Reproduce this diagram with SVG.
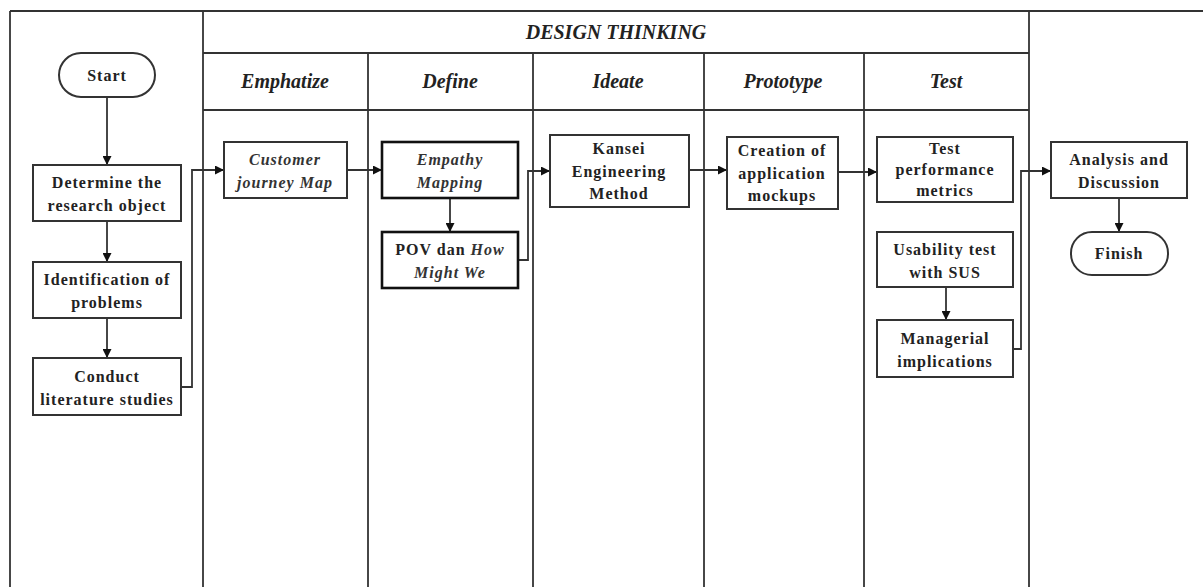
<svg xmlns="http://www.w3.org/2000/svg" width="1203" height="587" viewBox="0 0 1203 587">
<style>
.grid{stroke:#333;stroke-width:1.8;fill:none}
.box{fill:#fff;stroke:#333;stroke-width:2}
.thick{fill:#fff;stroke:#111;stroke-width:2.6}
.t{font-family:"Liberation Serif","Times New Roman",serif;font-weight:bold;font-size:16px;letter-spacing:1px;fill:#222;text-anchor:middle}
.i{font-style:italic;fill:#333}
.h{font-family:"Liberation Serif","Times New Roman",serif;font-weight:bold;font-style:italic;font-size:20px;fill:#222;text-anchor:middle}
.c{stroke:#333;stroke-width:1.8;fill:none}
</style>
<defs>
<marker id="arr" viewBox="0 0 10 10" refX="10" refY="5" markerWidth="9" markerHeight="9" markerUnits="userSpaceOnUse" orient="auto">
<path d="M0,0 L10,5 L0,10 z" fill="#111"/>
</marker>
</defs>
<rect width="1203" height="587" fill="#fff"/>
<g id="frame">
<line class="grid" x1="10" y1="11" x2="1203" y2="11"/>
<line class="grid" x1="10" y1="11" x2="10" y2="587"/>
<line class="grid" x1="203" y1="11" x2="203" y2="587"/>
<line class="grid" x1="1029" y1="11" x2="1029" y2="587"/>
<line class="grid" x1="203" y1="53" x2="1029" y2="53"/>
<line class="grid" x1="203" y1="110" x2="1029" y2="110"/>
<line class="grid" x1="368" y1="53" x2="368" y2="587"/>
<line class="grid" x1="533" y1="53" x2="533" y2="587"/>
<line class="grid" x1="704" y1="53" x2="704" y2="587"/>
<line class="grid" x1="864" y1="53" x2="864" y2="587"/>
<text class="h" x="616" y="39">DESIGN THINKING</text>
<text class="h" x="285" y="88">Emphatize</text>
<text class="h" x="450" y="88">Define</text>
<text class="h" x="618" y="88">Ideate</text>
<text class="h" x="783" y="88">Prototype</text>
<text class="h" x="946" y="88">Test</text>
</g>
<g id="connectors">
<line class="c" x1="107" y1="97" x2="107" y2="165" marker-end="url(#arr)"/>
<line class="c" x1="107" y1="221" x2="107" y2="262" marker-end="url(#arr)"/>
<line class="c" x1="107" y1="318" x2="107" y2="358" marker-end="url(#arr)"/>
<polyline class="c" points="181,387 192,387 192,170 224,170" marker-end="url(#arr)"/>
<line class="c" x1="347" y1="170" x2="382" y2="170" marker-end="url(#arr)"/>
<line class="c" x1="450" y1="198" x2="450" y2="232" marker-end="url(#arr)"/>
<polyline class="c" points="518,260 528,260 528,171 550,171" marker-end="url(#arr)"/>
<line class="c" x1="689" y1="170" x2="727" y2="170" marker-end="url(#arr)"/>
<line class="c" x1="838" y1="172" x2="877" y2="172" marker-end="url(#arr)"/>
<line class="c" x1="946" y1="287" x2="946" y2="320" marker-end="url(#arr)"/>
<polyline class="c" points="1013,349 1021,349 1021,171 1051,171" marker-end="url(#arr)"/>
<line class="c" x1="1119" y1="198" x2="1119" y2="232" marker-end="url(#arr)"/>
</g>
<g id="start">
<rect class="box" x="59" y="53" width="96" height="44" rx="22"/>
<text class="t" x="107" y="81">Start</text>
</g>
<g id="determine">
<rect class="box" x="33" y="165" width="148" height="56"/>
<text class="t" x="107" y="188">Determine the</text>
<text class="t" x="107" y="211">research object</text>
</g>
<g id="identification">
<rect class="box" x="33" y="262" width="148" height="56"/>
<text class="t" x="107" y="285">Identification of</text>
<text class="t" x="107" y="308">problems</text>
</g>
<g id="conduct">
<rect class="box" x="33" y="358" width="148" height="57"/>
<text class="t" x="107" y="382">Conduct</text>
<text class="t" x="107" y="405">literature studies</text>
</g>
<g id="customer">
<rect class="box" x="224" y="142" width="123" height="56"/>
<text class="t i" x="285" y="165">Customer</text>
<text class="t i" x="285" y="188">journey Map</text>
</g>
<g id="empathy">
<rect class="thick" x="382" y="142" width="136" height="56"/>
<text class="t i" x="450" y="165">Empathy</text>
<text class="t i" x="450" y="188">Mapping</text>
</g>
<g id="pov">
<rect class="thick" x="382" y="232" width="136" height="56"/>
<text class="t" x="450" y="255">POV dan <tspan class="i">How</tspan></text>
<text class="t i" x="450" y="278">Might We</text>
</g>
<g id="kansei">
<rect class="box" x="550" y="135" width="139" height="72"/>
<text class="t" x="619" y="154">Kansei</text>
<text class="t" x="619" y="177">Engineering</text>
<text class="t" x="619" y="199">Method</text>
</g>
<g id="creation">
<rect class="box" x="727" y="137" width="111" height="72"/>
<text class="t" x="782" y="156">Creation of</text>
<text class="t" x="782" y="179">application</text>
<text class="t" x="782" y="201">mockups</text>
</g>
<g id="testperf">
<rect class="box" x="877" y="137" width="136" height="65"/>
<text class="t" x="945" y="154">Test</text>
<text class="t" x="945" y="175">performance</text>
<text class="t" x="945" y="196">metrics</text>
</g>
<g id="usability">
<rect class="box" x="877" y="232" width="136" height="55"/>
<text class="t" x="945" y="255">Usability test</text>
<text class="t" x="945" y="278">with SUS</text>
</g>
<g id="managerial">
<rect class="box" x="877" y="320" width="136" height="57"/>
<text class="t" x="945" y="344">Managerial</text>
<text class="t" x="945" y="367">implications</text>
</g>
<g id="analysis">
<rect class="box" x="1051" y="142" width="136" height="56"/>
<text class="t" x="1119" y="165">Analysis and</text>
<text class="t" x="1119" y="188">Discussion</text>
</g>
<g id="finish">
<rect class="box" x="1071" y="232" width="97" height="43" rx="21"/>
<text class="t" x="1119" y="259">Finish</text>
</g>
</svg>
